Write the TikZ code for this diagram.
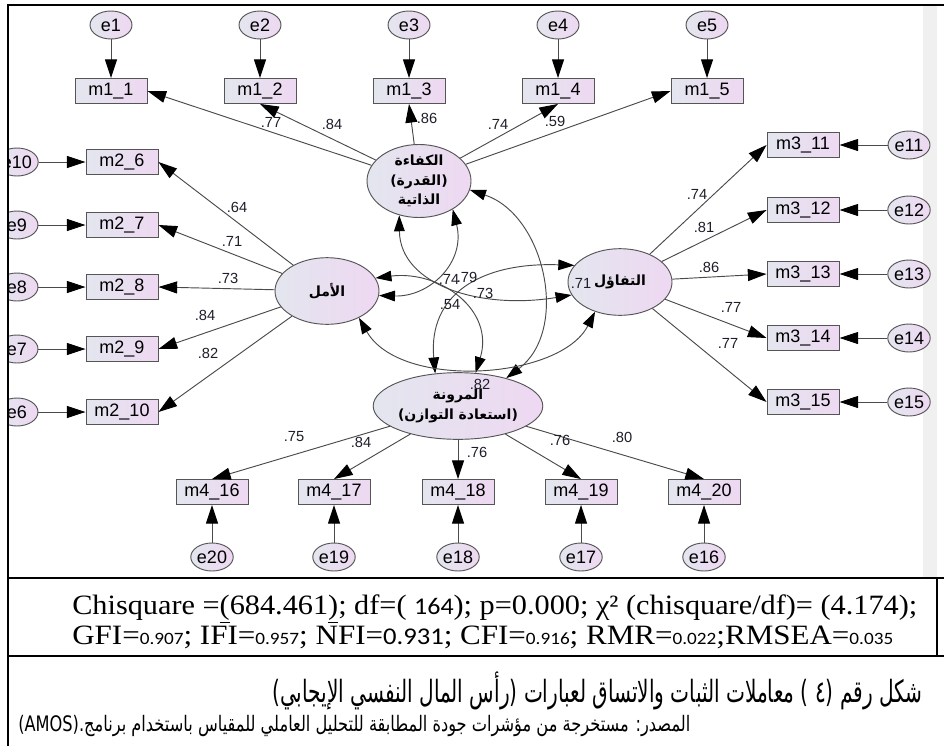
\documentclass[tikz,border=0pt]{standalone}
\usepackage{fontspec}
\usepackage{graphicx}
\setmainfont{Liberation Serif}
\newfontfamily\amosfont{Liberation Sans}
\newfontfamily\arabicfont[Script=Arabic]{DejaVu Sans}
\newfontfamily\calfont{Carlito}
\usetikzlibrary{arrows.meta,shapes.geometric}
\TeXXeTstate=1

\definecolor{fillL}{HTML}{E3E6EE}
\definecolor{fillR}{HTML}{EED8F2}
\definecolor{edge}{HTML}{555555}
\definecolor{wire}{HTML}{4A4A4A}
\definecolor{coeftext}{HTML}{1E1E2A}
\definecolor{strip}{HTML}{F0F0F0}

\tikzset{
  tipL/.tip={Triangle[length=14pt,width=9pt,color=black]},
  tipC/.tip={Triangle[length=12pt,width=8pt,color=black]},
  obs/.style={rectangle, draw=edge, line width=0.7pt, left color=fillL, right color=fillR,
    minimum width=54pt, minimum height=18.75pt, inner sep=0pt,
    font=\amosfont\fontsize{13.5}{15}\selectfont},
  err/.style={ellipse, draw=edge, line width=0.7pt, left color=fillL, right color=fillR,
    minimum width=31.5pt, minimum height=21pt, inner sep=0pt,
    font=\amosfont\fontsize{13.5}{15}\selectfont},
  lat/.style={ellipse, draw=edge, line width=0.7pt, left color=fillL, right color=fillR,
    minimum width=78pt, minimum height=50pt, inner sep=0pt, align=center,
    font=\arabicfont\bfseries\fontsize{10.5}{14.5}\selectfont},
  load/.style={draw=wire, line width=0.7pt, -tipL},
  cov/.style={draw=wire, line width=0.7pt, tipC-tipC},
  coef/.style={inner sep=0pt, text=coeftext, font=\amosfont\fontsize{11}{12}\selectfont},
  rule/.style={line width=1.5pt, black},
}

\begin{document}
\begin{tikzpicture}[x=0.75pt,y=-0.75pt]
\useasboundingbox (0,0) rectangle (944,746);
\fill[white] (0,0) rectangle (944,746);

\begin{scope}
\clip (8,5) rectangle (944,578);
\fill[strip] (923,5) rectangle (937,578);

% latent factors
\node[lat] (K) at (419,181) {\beginR الكفاءة\endR\\\beginR(القدرة)\endR\\\beginR الذاتية\endR};
\node[lat] (A) at (327,291) {\beginR الأمل\endR};
\node[lat] (T) at (620,282) {\beginR التفاؤل\endR};
\node[lat] (M) at (458,406) {\beginR المرونة\endR\\\beginR(استعادة التوازن)\endR};

% indicators of the first factor
\foreach \i/\x in {1/111,2/260,3/409,4/558,5/707}{
  \node[obs] (o\i) at (\x,91) {m1\_\i};
  \node[err] (e\i) at (\x,25) {e\i};
  \draw[load] (e\i) -- (o\i);
}
% indicators of the second factor
\foreach \i/\y/\e in {6/162/10,7/225/9,8/287/8,9/349/7,10/412/6}{
  \node[obs] (o\i) at (122,\y) {m2\_\i};
  \node[err] (e\e) at (17,\y) {e\e};
  \draw[load] (e\e) -- (o\i);
}
% indicators of the third factor
\foreach \i/\y in {11/145,12/210,13/274,14/338,15/402}{
  \node[obs] (o\i) at (803,\y) {m3\_\i};
  \node[err] (e\i) at (909,\y) {e\i};
  \draw[load] (e\i) -- (o\i);
}
% indicators of the fourth factor
\foreach \i/\x/\e in {16/212/20,17/334/19,18/458/18,19/581/17,20/704/16}{
  \node[obs] (o\i) at (\x,492) {m4\_\i};
  \node[err] (e\e) at (\x,557) {e\e};
  \draw[load] (e\e) -- (o\i);
}

% loadings
\draw[load] (K) -- (o1.east);
\draw[load] (K) -- (o2.south);
\draw[load] (K) -- (o3.south);
\draw[load] (K) -- (o4.south);
\draw[load] (K) -- (o5.west);
\foreach \i in {6,...,10}{\draw[load] (A) -- (o\i.east);}
\foreach \i in {11,...,15}{\draw[load] (T) -- (o\i.west);}
\foreach \i in {16,...,20}{\draw[load] (M) -- (o\i.north);}

% covariances
\draw[cov] (K.-40) .. controls (466,262) and (430,297) .. (A.-5);
\draw[cov] (K.-120) .. controls (400,285) and (480,310) .. (T.-165);
\draw[cov] (A.15) .. controls (440,270) and (495,310) .. (M.62);
\draw[cov] (M.125) .. controls (428,295) and (480,262) .. (T.160);
\draw[cov] (K.-10) .. controls (545,215) and (570,330) .. (M.30);
\draw[cov] (A.-40) .. controls (400,390) and (560,380) .. (T.-130);

% coefficients
\node[coef] (c1) at (271,122) {.77};
\node[coef] (c2) at (332,124) {.84};
\node[coef] (c3) at (427,118) {.86};
\node[coef] (c4) at (498,124) {.74};
\node[coef] (c5) at (555,121) {.59};
\node[coef] (c6) at (237,207) {.64};
\node[coef] (c7) at (232,241) {.71};
\node[coef] (c8) at (228,278) {.73};
\node[coef] (c9) at (205,315) {.84};
\node[coef] (c10) at (208,353) {.82};
\node[coef] (c11) at (697,194) {.74};
\node[coef] (c12) at (704,227) {.81};
\node[coef] (c13) at (709,267) {.86};
\node[coef] (c14) at (731,307) {.77};
\node[coef] (c15) at (728,343) {.77};
\node[coef] (c16) at (294,437) {.75};
\node[coef] (c17) at (361,442) {.84};
\node[coef] (c18) at (477,452) {.76};
\node[coef] (c19) at (560,440) {.76};
\node[coef] (c20) at (622,437) {.80};
\node[coef] (r1) at (449,279) {.74};
\node[coef] (r2) at (467,277) {.79};
\node[coef] (r3) at (483,293) {.73};
\node[coef] (r4) at (450,305) {.54};
\node[coef] (r5) at (480,384) {.82};
\node[coef] (r6) at (581,283) {.71};
\end{scope}

% table rules
\draw[rule] (8,4) -- (8,746);
\draw[rule] (8,5) -- (944,5);
\draw[rule] (8,578) -- (944,578);
\draw[rule] (8,656) -- (944,656);
\draw[rule] (937,578) -- (937,656);

% fit indices
\node[anchor=base west, inner sep=0pt] (fit1) at (72,614)
  {\resizebox{633.75pt}{\height}{\fontsize{21}{22}\selectfont Chisquare =\underline{(}684.461\underline{)}; df=(~{\calfont\fontsize{18}{20}\selectfont 164}); p=0.000; χ² (chisquare/df)= (4.174);}};
\node[anchor=base west, inner sep=0pt] (fit2) at (72,644)
  {\resizebox{615.75pt}{\height}{\fontsize{21}{22}\selectfont GFI={\calfont\fontsize{13}{14}\selectfont 0.907}; IFI={\calfont\fontsize{13}{14}\selectfont 0.957}; NFI={\calfont\fontsize{18}{20}\selectfont 0.931}; CFI={\calfont\fontsize{13}{14}\selectfont 0.916}; RMR={\calfont\fontsize{13}{14}\selectfont 0.022};RMSEA={\calfont\fontsize{13}{14}\selectfont 0.035}}};

% caption
\node[anchor=base west, inner sep=0pt] (cap1) at (272,702)
  {\resizebox{487.5pt}{\height}{\arabicfont\fontsize{23}{26}\selectfont\beginR شكل رقم (٤ ) معاملات الثبات والاتساق لعبارات (رأس المال النفسي الإيجابي)\endR}};
\node[anchor=base west, inner sep=0pt] (cap2) at (18,731)
  {\resizebox{504pt}{\height}{\arabicfont\fontsize{16}{18}\selectfont\beginR المصدر: مستخرجة من مؤشرات جودة المطابقة للتحليل العاملي للمقياس باستخدام برنامج.\beginL(AMOS)\endL\endR}};
\end{tikzpicture}
\end{document}
